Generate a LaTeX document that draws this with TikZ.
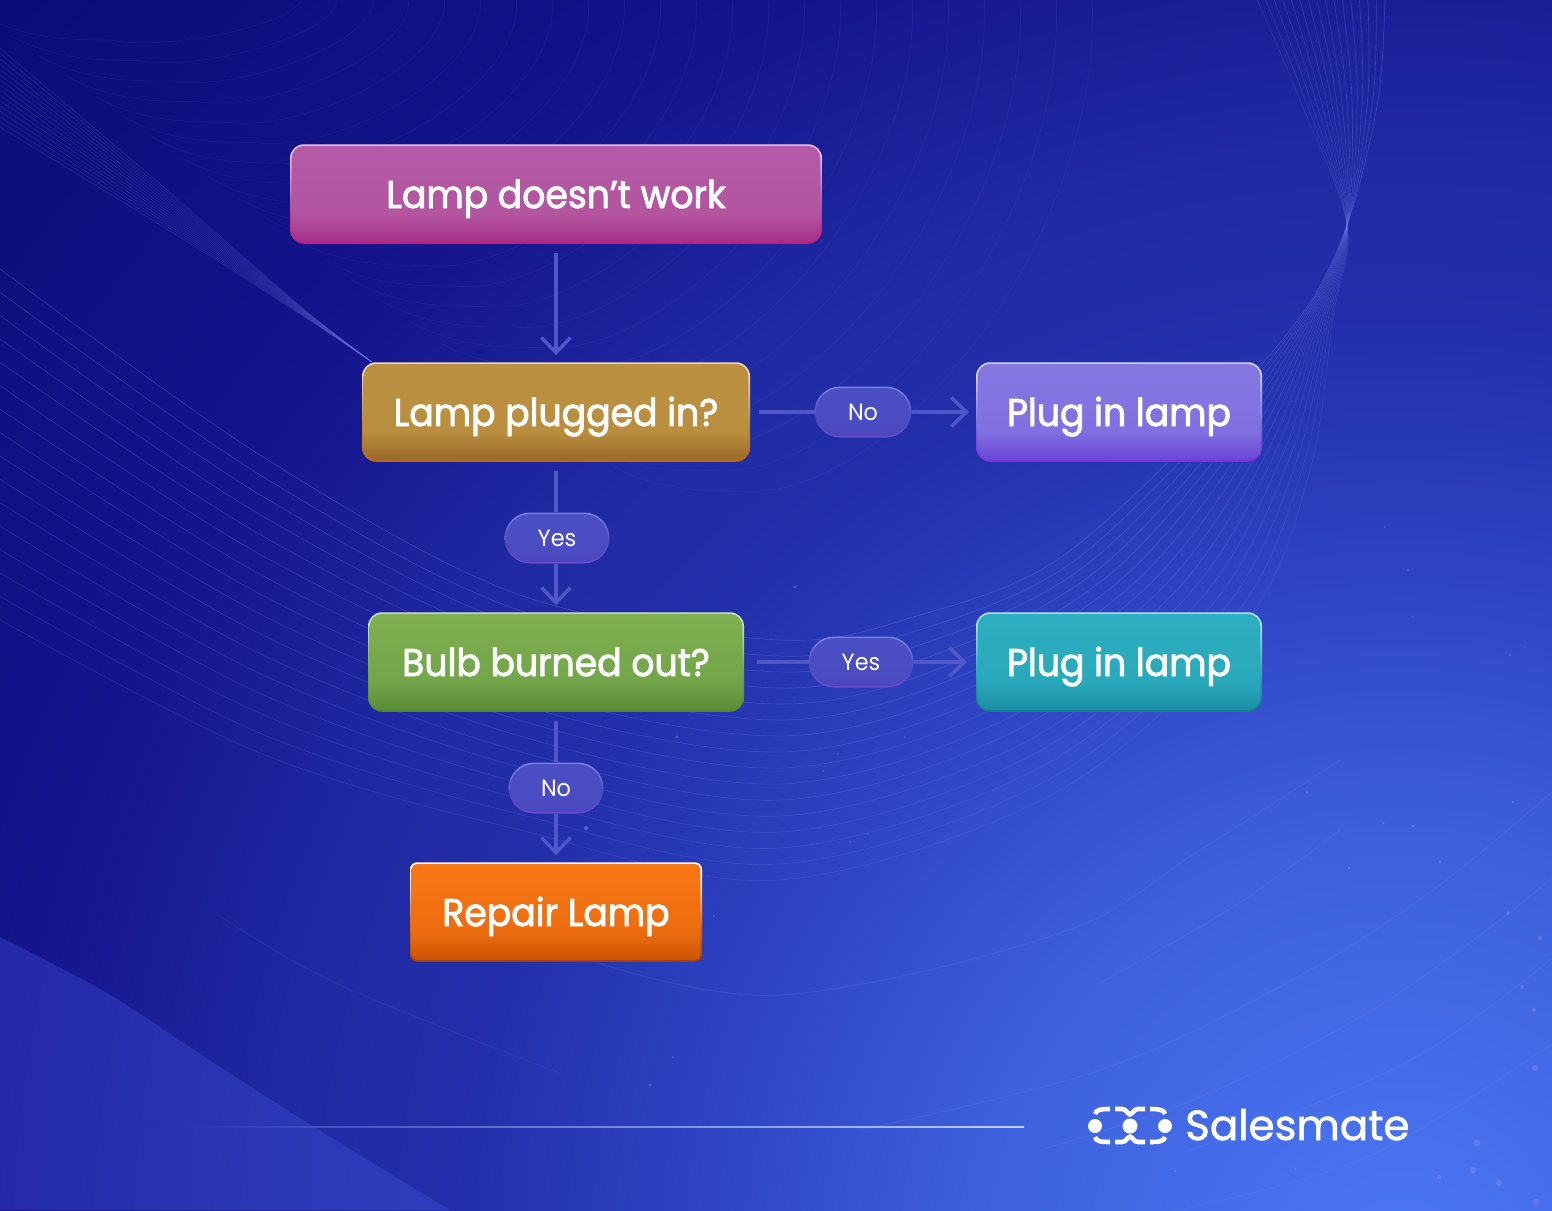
\documentclass[tikz,border=0pt]{standalone}
\usepackage{fontspec}
\usetikzlibrary{arrows.meta,calc}
\setmainfont{Poppins}
\newfontfamily\boxfont[FakeStretch=0.94,FakeBold=2.2]{Poppins}
\newfontfamily\pillfont[FakeStretch=0.95]{Poppins}
\newfontfamily\logofont[FakeBold=1.4]{Poppins}

\definecolor{bgA}{HTML}{0A0D78}\definecolor{bgB}{HTML}{14148C}\definecolor{bgC}{HTML}{1F29A2}
\definecolor{bgD}{HTML}{2330AB}\definecolor{bgE}{HTML}{2E44C4}\definecolor{bgF}{HTML}{3D60DC}
\definecolor{bgG}{HTML}{4C78F4}
\definecolor{cline}{HTML}{5058C8}
\definecolor{wave}{HTML}{7C88EC}
\definecolor{sweep}{HTML}{4A5CE8}
\pgfdeclareradialshading{bgshade}{\pgfpoint{0bp}{0bp}}{color(0bp)=(bgG);color(5.375bp)=(bgF);color(8.75bp)=(bgE);color(11.66bp)=(bgD);color(14.1bp)=(bgC);color(17.6bp)=(bgB);color(23.5bp)=(bgA);color(50bp)=(bgA)}

% name, top, mid, bottom, rim top, rim bottom
\newcommand{\mkskin}[6]{%
  \definecolor{#1T}{HTML}{#2}\definecolor{#1M}{HTML}{#3}\definecolor{#1B}{HTML}{#4}%
  \definecolor{#1RT}{HTML}{#5}\definecolor{#1RB}{HTML}{#6}%
  \pgfdeclareverticalshading{#1fill}{100bp}{color(0bp)=(#1B);color(26bp)=(#1B);color(40bp)=(#1M);color(75bp)=(#1T);color(100bp)=(#1T)}%
  \pgfdeclareverticalshading{#1rim}{100bp}{color(0bp)=(#1RB);color(27bp)=(#1RB);color(45bp)=(#1M);color(70bp)=(#1RT);color(75bp)=(#1RT);color(100bp)=(#1RT)}%
}
\mkskin{pink}{B45AA8}{B3559F}{A82F8A}{EAC8EA}{C0207F}
\mkskin{bronze}{BB9040}{B98E3E}{9A6A28}{F0E0C0}{C06A10}
\mkskin{violet}{8478E0}{8070E0}{6A45D8}{D8D8F6}{7B30E0}
\mkskin{green}{80B050}{72A54A}{5C8C36}{D0E4C0}{4C8E30}
\mkskin{teal}{2CAFC0}{2AA8BB}{1A8FA6}{B8E6EC}{14808F}
\mkskin{orange}{F87815}{EC6C10}{CC5505}{FFFFFF}{A04010}
\mkskin{pillc}{4B4FC4}{4B4CC2}{4C46C0}{7C80E0}{6A4CD0}

\tikzset{
  x=1pt,y=-1pt,
  skin/.style={shade,shading=#1rim,
    path picture={\path[shade,shading=#1fill,rounded corners=\pgfkeysvalueof{/tikz/skinr}]
      ([shift={(1.6,1.6)}]path picture bounding box.north west) rectangle
      ([shift={(-1.6,-1.6)}]path picture bounding box.south east);}},
  skinr/.initial=12.4pt,
  flowbox/.style={rectangle,rounded corners=14pt,skin=#1,inner sep=0pt,text=white,
    minimum height=99.5pt,font=\boxfont\fontsize{38.5}{41}\selectfont,text height=28pt,text depth=0pt},
  pillbox/.style={rectangle,rounded corners=25.5pt,skinr=23.9pt,skin=pillc,inner sep=0pt,text=white,
    minimum height=51pt,font=\pillfont\fontsize{23.5}{26}\selectfont,text height=17pt,text depth=0pt},
  conn/.style={draw=cline,line width=3.4pt},
  arrowed/.style={conn,-{Straight Barb[length=15pt,width=29pt,line width=3.4pt]},shorten >=7pt},
  wavel/.style={draw=wave,line width=.6pt},
  speck/.style={fill=wave,opacity=.55},
}

\begin{document}
\begin{tikzpicture}
\useasboundingbox (0,0) rectangle (1552,1210);
\begin{scope}
\clip (0,0) rectangle (1552,1210);
% background
\path[shade,shading=bgshade] (1400,1270) circle (2000pt);
% bottom-left lighter sweep
\fill[color=sweep,opacity=.3] plot[smooth,tension=.5] coordinates {(0,937) (107,993) (214,1063) (314,1127) (450,1210)} -- (0,1210) -- cycle;

% large wave family
\foreach \i in {0,...,15}{
  \pgfmathsetmacro\t{\i/15}
  \pgfmathsetmacro\aa{265+352*\t}
  \pgfmathsetmacro\ab{455+298*\t}
  \pgfmathsetmacro\ac{595+235*\t}
  \pgfmathsetmacro\ad{640+240*\t}
  \pgfmathsetmacro\bx{920+140*\t}
  \pgfmathsetmacro\ae{615+175*\t}
  \pgfmathsetmacro\cx{1057+190*\t}
  \pgfmathsetmacro\cy{560+60*\t}
  \pgfmathsetmacro\dx{1200+110*\t}
  \pgfmathsetmacro\dy{430+40*\t}
  \pgfmathsetmacro\ex{1300+33*\t}
  \pgfmathsetmacro\fx{1378-78*\t}
  \pgfmathsetmacro\gx{1385-130*\t}
  \pgfmathsetmacro\op{.34-.12*\t}
  \draw[wavel,opacity=\op] plot[smooth,tension=.55] coordinates
    {(-5,\aa) (260,\ab) (520,\ac) (780,\ad) (\bx,\ae) (\cx,\cy) (\dx,\dy) (\ex,317) (1347,225) (\fx,100) (\gx,-5)};
}
% faint bowl arcs
\foreach \i in {0,...,22}{
  \pgfmathsetmacro\ym{40+20.5*\i}
  \pgfmathsetmacro\xm{50+1.4*(\ym-40)}
  \pgfmathsetmacro\xt{300+36*\i}
  \pgfmathsetmacro\cax{\xm+.5*(\xt-\xm)}
  \pgfmathsetmacro\cay{\ym+12}
  \pgfmathsetmacro\cbx{\xt+12}
  \pgfmathsetmacro\cby{.5*\ym}
  \pgfmathsetmacro\sx{\xm-70}
  \pgfmathsetmacro\sy{\ym-26}
  \draw[wavel,opacity=.1] (\sx,\sy) .. controls (\xm-25,\ym) and (\xm+25,\ym) .. (\xm+60,\ym) .. controls (\cax,\cay) and (\cbx,\cby) .. (\xt,-5);
}
% dense upper-left band
\foreach \i in {0,...,15}{
  \pgfmathsetmacro\t{\i/15}
  \pgfmathsetmacro\ya{44+80*\t}
  \pgfmathsetmacro\yb{190+39*\t}
  \pgfmathsetmacro\yc{306+8*\t}
  \draw[wavel,opacity=.2] plot[smooth,tension=.5] coordinates {(-5,\ya) (167,\yb) (300,\yc) (372,362)};
}
% lower right long strokes
\foreach \pts in {
 {(590,960) (780,995) (1060,933) (1200,850) (1340,760)},
 {(1100,983) (1233,907) (1340,830)},
 {(860,1130) (1100,1070) (1287,983) (1433,890) (1560,785)},
 {(1040,1150) (1200,1097) (1367,1013) (1500,920) (1560,870)},
 {(1190,1150) (1300,1110) (1433,1047) (1560,952)},
 {(1167,1212) (1367,1157) (1560,1038)}}{
  \draw[draw=wave,line width=1.2pt,opacity=.16] plot[smooth,tension=.6] coordinates \pts;
}
\draw[draw=wave,line width=1pt,opacity=.1] plot[smooth,tension=.6] coordinates {(220,916) (340,985) (560,1073)};
% specks
\foreach \px/\py/\pr in {1307/792/1.2,1383/823/1.5,1413/826/1.5,1349/868/1.3,1440/862/1.6,1513/802/1.3,1508/913/1.8,1540/938/2,1522/987/2.2,1534/1010/2,1535/1068/3,1477/1143/3.4,1473/1170/3.4,1439/1177/2.2,1499/1183/3.2,1536/1202/3.2,1295/1169/1.6,1175/1171/1.3,677/737/1.6,586/828/2,714/916/1,838/754/.8,905/737/.8,823/771/.8,868/834/.8,850/842/.8,795/587/1.5,650/1085/1.5,673/1057/1,1385/527/.8,1408/570/.8,1413/617/.8,1510/655/.8,1525/647/.8,1182/555/.8}{
  \fill[speck] (\px,\py) circle (\pr pt);
}
\end{scope}

% divider
\shade[left color=bgD,right color=white!65!bgG] (145,1126.3) rectangle (1024,1127.9);

% boxes
\node[flowbox=pink,minimum width=532pt] (start) at (556,194) {Lamp doesn’t work};
\node[flowbox=bronze,minimum width=388pt] (plugged) at (556,412) {Lamp plugged in?};
\node[flowbox=violet,minimum width=286pt] (plugin) at (1119,412) {Plug in lamp};
\node[flowbox=green,minimum width=376pt] (bulb) at (556,662) {Bulb burned out?};
\node[flowbox=teal,minimum width=286pt] (plugin2) at (1119,662) {Plug in lamp};
\node[flowbox=orange,rounded corners=7pt,skinr=5.6pt,minimum width=292pt] (repair) at (556,912) {Repair Lamp};
% pills
\node[pillbox,minimum width=97pt] (noA) at (863,412) {No};
\node[pillbox,minimum width=105pt] (yesA) at (557,538) {Yes};
\node[pillbox,minimum width=105pt] (yesB) at (861,662) {Yes};
\node[pillbox,minimum width=95pt] (noB) at (556,788) {No};

% connectors
\draw[arrowed,shorten <=9pt] (start.south) -- (plugged.north);
\draw[conn,shorten <=9pt] (plugged.east) -- (noA.west);
\draw[arrowed] (noA.east) -- (plugin.west);
\draw[conn,shorten <=9pt] (plugged.south) -- (plugged.south |- yesA.north);
\draw[arrowed] (plugged.south |- yesA.south) -- (bulb.north);
\draw[conn,shorten <=13pt] (bulb.east) -- (yesB.west);
\draw[arrowed,shorten >=9pt] (yesB.east) -- (plugin2.west);
\draw[conn,shorten <=9pt] (bulb.south) -- (noB.north);
\draw[arrowed] (noB.south) -- (repair.north);

% logo
\foreach \s in {1,-1}{
\begin{scope}[shift={(0,1125.5)},yscale=\s]
  \draw[white,line width=4.6pt] (1095,-11.5) .. controls (1096,-15.5) and (1100,-16.5) .. (1110,-16.5);
  \draw[white,line width=4.6pt] (1115,-16.5) -- (1122,-16.5) .. controls (1126,-16.5) and (1127,-12) .. (1130,-11) .. controls (1133,-12) and (1134,-16.5) .. (1138,-16.5) -- (1145,-16.5);
  \draw[white,line width=4.6pt] (1150,-16.5) .. controls (1160,-16.5) and (1164,-15.5) .. (1165,-11.5);
\end{scope}}
\fill[white] (1095,1126) circle (7pt) (1130,1126) circle (7.5pt) (1165,1126) circle (7pt);
\node[anchor=base west,inner sep=0pt,text=white,font=\logofont\fontsize{42}{46}\selectfont] (brand) at (1185,1140) {Salesmate};
\end{tikzpicture}
\end{document}
